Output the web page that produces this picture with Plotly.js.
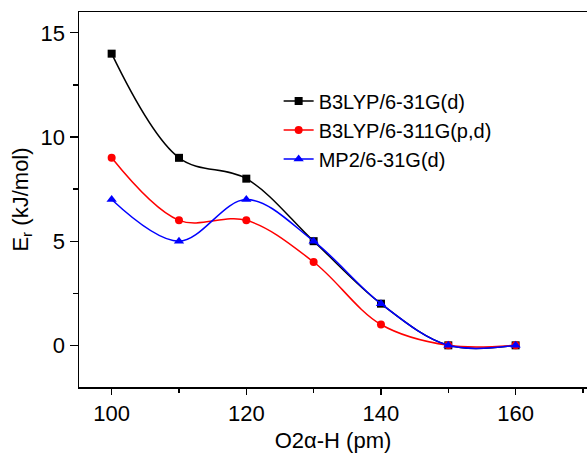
<!DOCTYPE html>
<html>
<head>
<meta charset="utf-8">
<script src="https://cdn.plot.ly/plotly-3.0.1.min.js"></script>
<style>html,body{margin:0;padding:0;background:#fff}#chart{width:587px;height:454px}</style>
</head>
<body>
<div id="chart"></div>
<script>
const distances = [100, 110, 120, 130, 140, 150, 160];
const b3lyp631 = [14, 9, 8, 5, 2, 0, 0];
const b3lyp6311 = [9, 6, 6, 4, 1, 0, 0];
const mp2631 = [7, 5, 7, 5, 2, 0, 0];
const seriesNames = ["B3LYP/6-31G(d)", "B3LYP/6-311G(p,d)", "MP2/6-31G(d)"];
const xTicks = [100, 120, 140, 160];
const yTicks = [0, 5, 10, 15];

const font = "Liberation Sans, Arial, sans-serif";
function tr(y, name, color, symbol, size) {
  return {x: distances, y: y, name: name, type: "scatter", mode: "lines+markers",
    line: {color: color, width: 1.5, shape: "spline", smoothing: 1},
    marker: {color: color, symbol: symbol, size: size}};
}
const data = [
  tr(b3lyp631, seriesNames[0], "#000000", "square", 8),
  tr(b3lyp6311, seriesNames[1], "#ff0000", "circle", 8),
  tr(mp2631, seriesNames[2], "#0000ff", "triangle-up", 9)
];
const layout = {
  width: 587, height: 454,
  margin: {l: 79, r: 0, t: 12, b: 67},
  paper_bgcolor: "#fff", plot_bgcolor: "#fff",
  font: {family: font, size: 22, color: "#000"},
  showlegend: true,
  legend: {x: 0.393, y: 0.815, xanchor: "left", yanchor: "top", font: {size: 20, family: font}, bgcolor: "rgba(0,0,0,0)", tracegroupgap: 0, itemsizing: "trace"},
  xaxis: {
    range: [95.15, 170.6], tickvals: xTicks, ticktext: xTicks.map(String),
    showgrid: false, zeroline: false, showline: true, linecolor: "#000", linewidth: 1.5, mirror: true,
    ticks: "outside", ticklen: 6, tickwidth: 1.2, tickcolor: "#000",
    minor: {dtick: 10, tick0: 100, ticks: "outside", ticklen: 4, tickwidth: 1.2, tickcolor: "#000", showgrid: false},
    tickfont: {size: 22},
    title: {text: "O2α-H (pm)", font: {size: 22}, standoff: 7}
  },
  yaxis: {
    range: [-2, 16], tickvals: yTicks, ticktext: yTicks.map(String),
    showgrid: false, zeroline: false, showline: true, linecolor: "#000", linewidth: 1.5, mirror: false,
    ticks: "outside", ticklen: 8, tickwidth: 1.2, tickcolor: "#000",
    minor: {dtick: 2.5, tick0: 0, ticks: "outside", ticklen: 5, tickwidth: 1.2, tickcolor: "#000", showgrid: false},
    tickfont: {size: 22},
    title: {text: "E<sub>r</sub> (kJ/mol)", font: {size: 22}, standoff: 6}
  }
};
Plotly.newPlot("chart", data, layout, {displayModeBar: false, staticPlot: true});
</script>
</body>
</html>
